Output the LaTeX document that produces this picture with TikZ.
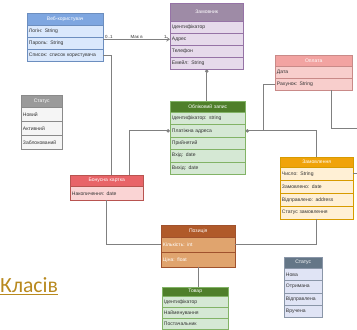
\documentclass[tikz,border=0pt]{standalone}
\usepackage{fontspec}
\setmainfont{Liberation Sans}
\newfontfamily\titlefont{Carlito}
\usetikzlibrary{positioning, arrows.meta, calc}

\definecolor{bluehd}{HTML}{7EA6E0}   \definecolor{bluebd}{HTML}{DAE8FC}   \definecolor{blueln}{HTML}{6C8EBF}
\definecolor{purphd}{HTML}{9E8BA6}   \definecolor{purpbd}{HTML}{E6DAEB}   \definecolor{purpln}{HTML}{9673A6}
\definecolor{pinkhd}{HTML}{F2A3A1}   \definecolor{pinkbd}{HTML}{F8CECC}   \definecolor{pinkln}{HTML}{C98A88}
\definecolor{greyhd}{HTML}{9A9A9A}   \definecolor{greybd}{HTML}{F5F5F5}   \definecolor{greyln}{HTML}{8A8A8A}
\definecolor{greenhd}{HTML}{4F7F2A}  \definecolor{greenbd}{HTML}{D5E8D4}  \definecolor{greenln}{HTML}{82B366}
\definecolor{orangehd}{HTML}{F0A30A} \definecolor{orangebd}{HTML}{FFF0D5} \definecolor{orangeln}{HTML}{D79B00}
\definecolor{redhd}{HTML}{E86468}    \definecolor{redbd}{HTML}{FAD4D4}    \definecolor{redln}{HTML}{B85450}
\definecolor{brownhd}{HTML}{B05A2A}  \definecolor{brownbd}{HTML}{E0A46E}  \definecolor{brownln}{HTML}{A0522D}
\definecolor{slatehd}{HTML}{647687}  \definecolor{slatebd}{HTML}{E0E4F5}  \definecolor{slateln}{HTML}{8A96A8}
\definecolor{rowtext}{HTML}{333333}
\definecolor{linegray}{HTML}{808080}
\definecolor{titlegold}{HTML}{B8891E}

\tikzset{
  clshead/.style={draw=#1ln, fill=#1hd, text=white, font=\fontsize{4.3}{5}\selectfont,
    inner xsep=1.5pt, inner ysep=0pt, align=center},
  clsrow/.style={draw=#1ln, fill=#1bd, text=rowtext, font=\fontsize{4.3}{5}\selectfont,
    inner xsep=1.5pt, inner ysep=0pt, align=left},
  conn/.style={draw=linegray, line width=0.6pt},
  lbl/.style={font=\fontsize{3.8}{4}\selectfont, text=rowtext, inner sep=0.6pt},
  dot/.style={{Diamond[length=3.2pt,width=3.2pt]}-}
}

% class box: name, x, y, width, header h, row h, colour, title, rows
\newcommand{\umlclass}[9]{%
  \pgfmathsetlengthmacro{\textw}{#4*0.03cm-3pt}%
  \pgfmathsetlengthmacro{\hdrh}{#5*0.03cm}%
  \pgfmathsetlengthmacro{\rowh}{#6*0.03cm}%
  \node[clshead=#7, text width=\textw, minimum height=\hdrh, anchor=north west] (#1-h) at (#2,#3) {#8};
  \foreach \lbl [count=\i] in {#9}{
    \pgfmathsetmacro{\rowy}{#3+#5+(\i-1)*#6}
    \node[clsrow=#7, text width=\textw, minimum height=\rowh, anchor=north west] (#1-\i) at (#2,\rowy) {\lbl};
  }%
}

\begin{document}
\begin{tikzpicture}[x=0.03cm, y=-0.03cm, >=Stealth]
  \useasboundingbox (0,0) rectangle (357,329);

  % Classes
  \umlclass{user}{27}{13}{76}{12}{12}{blue}{Веб-користувач}{Логін: String, Пароль: String, Список: список користувача}
  \umlclass{customer}{170}{3}{73}{18}{12}{purp}{Замовник}{Ідентифікатор, Адрес, Телефон, Емейл: String}
  \umlclass{payment}{275}{55}{77}{11}{12}{pink}{Оплата}{Дата, Рахунок: String}
  \umlclass{state}{21}{95}{41}{12}{14}{grey}{Статус}{Новий, Активний, Заблокований}
  \umlclass{account}{170}{101}{75}{11}{12.4}{green}{Обліковий запис}{Ідентифікатор: string, Платіжна адреса, Прийнятий, Вхід: date, Вихід: date}
  \umlclass{order}{280}{157}{73}{10}{13}{orange}{Замовлення}{Число: String, Замовлено: date, Відправлено: address, Статус замовлення}
  \umlclass{card}{70}{175}{73}{11}{14}{red}{Бонусна картка}{Накопичення: date}
  \umlclass{item}{161}{225}{74}{12}{15}{brown}{Позиція}{\textcolor{white}{Кількість: int}, \textcolor{white}{Ціна: float}}
  \umlclass{delivery}{284}{257}{38}{11}{12.25}{slate}{Статус}{Нова, Отримана, Відправлена, Вручена}
  \umlclass{product}{162}{287}{66}{9}{11}{green}{Товар}{Ідентифікатор, Найменування, Постачальник}

  % Connectors
  \draw[conn, -{Straight Barb[length=2.5pt,width=3.5pt]}] (user-2.east |- customer-2.west) -- (customer-2.west)
    node[lbl, pos=0.08, above] {0..1}
    node[lbl, pos=0.5, above] {Має в}
    node[lbl, pos=0.93, above] {1};
  \draw[conn] (user-3.east) -| ($(card-h.north west)+(41,0)$);
  \draw[conn, dot] (account-2.west) -| ($(card-h.north west)+(59,0)$);
  \draw[conn, dot] (customer-4.south) -- (customer-4.south |- account-h.north);
  \draw[conn, dot] (account-2.east) -| (order-h.north);
  \draw[conn] (payment-2.west) -| ($(account-2.east)+(18,0)$);
  \coordinate (offright) at (357,128);
  \draw[conn] ($(payment-2.south)+(17.5,0)$) |- (offright);
  \draw[conn] (order-1.east) -- (order-1.east -| offright);
  \draw[conn] (card-1.south) |- (item-1.west);
  \draw[conn] (order-4.south) |- (item-1.east);
  \draw[conn] (item-2.south) -- (item-2.south |- product-h.north);

  % Title fragment
  \node[anchor=base west, inner sep=0pt, text=titlegold, font=\titlefont\fontsize{18.5}{20}\selectfont] (title) at (0,292) {\underline{Класів}};
\end{tikzpicture}
\end{document}
